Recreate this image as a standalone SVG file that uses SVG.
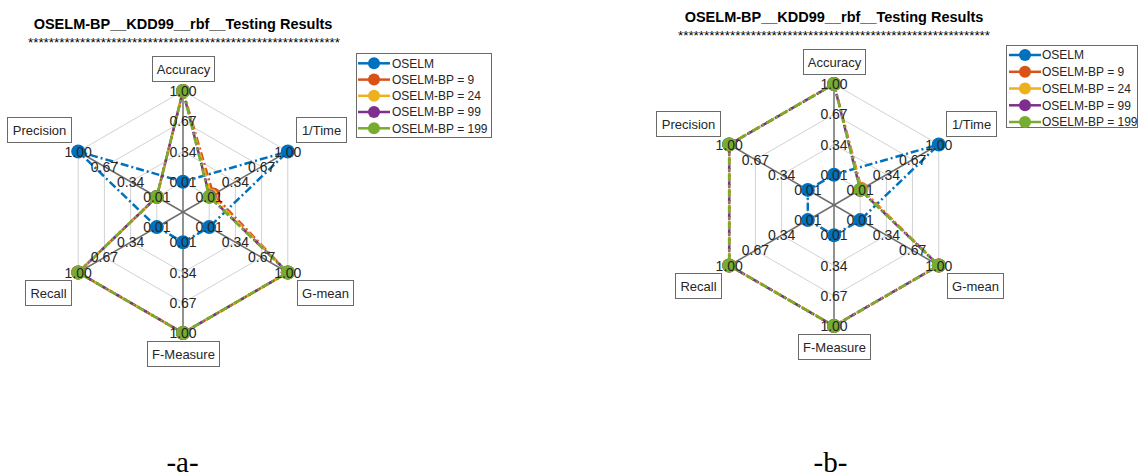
<svg xmlns="http://www.w3.org/2000/svg" width="1140" height="476" viewBox="0 0 1140 476">
<style>
.ring{fill:none;stroke:#d2d2d2;stroke-width:1}
.spoke{stroke:#6e6e6e;stroke-width:1.5}
.tick{font-family:"Liberation Sans",Arial,sans-serif;font-size:14px;fill:#262626;text-anchor:middle}
.axbox{fill:#fff;stroke:#6a6a6a;stroke-width:1}
.axlab{font-family:"Liberation Sans",Arial,sans-serif;font-size:13px;fill:#262626;text-anchor:middle}
.title{font-family:"Liberation Sans",Arial,sans-serif;font-size:14.5px;font-weight:bold;fill:#000;text-anchor:middle}
.stars{font-family:"Liberation Sans",Arial,sans-serif;font-size:12px;fill:#000;text-anchor:middle}
.leg{font-family:"Liberation Sans",Arial,sans-serif;font-size:12px;fill:#262626}
.legbox{fill:#fff;stroke:#6a6a6a;stroke-width:1}
.s{fill:none;stroke-width:2.5;stroke-dasharray:8 3 2 3;stroke-linejoin:round}
.cap{font-family:"Liberation Serif","Times New Roman",serif;font-size:29px;fill:#000;text-anchor:middle}
.c1{stroke:#0072BD}.f1{fill:#0072BD}
.c2{stroke:#D95319}.f2{fill:#D95319}
.c3{stroke:#EDB120}.f3{fill:#EDB120}
.c4{stroke:#7E2F8E}.f4{fill:#7E2F8E}
.c5{stroke:#77AC30}.f5{fill:#77AC30}
</style>

<!-- ================= CHART A ================= -->
<g id="chart-a">
  <text class="title" x="183" y="29">OSELM-BP__KDD99__rbf__Testing Results</text>
  <text class="stars" x="184" y="47" textLength="312" lengthAdjust="spacingAndGlyphs">************************************************************</text>

  <g id="grid-a" transform="translate(183,212)">
    <polygon class="ring" points="0,-30.25 26.2,-15.12 26.2,15.12 0,30.25 -26.2,15.12 -26.2,-15.12"/>
    <polygon class="ring" points="0,-60.5 52.39,-30.25 52.39,30.25 0,60.5 -52.39,30.25 -52.39,-30.25"/>
    <polygon class="ring" points="0,-90.75 78.59,-45.38 78.59,45.38 0,90.75 -78.59,45.38 -78.59,-45.38"/>
    <polygon class="ring" points="0,-121 104.79,-60.5 104.79,60.5 0,121 -104.79,60.5 -104.79,-60.5"/>
    <line class="spoke" x1="0" y1="0" x2="0" y2="-121"/>
    <line class="spoke" x1="0" y1="0" x2="104.79" y2="-60.5"/>
    <line class="spoke" x1="0" y1="0" x2="104.79" y2="60.5"/>
    <line class="spoke" x1="0" y1="0" x2="0" y2="121"/>
    <line class="spoke" x1="0" y1="0" x2="-104.79" y2="60.5"/>
    <line class="spoke" x1="0" y1="0" x2="-104.79" y2="-60.5"/>
  </g>

  <g id="connectors-a" transform="translate(183,212)">
    <g id="series-a-oselm">
      <polygon class="s c1" points="0,-30.25 104.79,-60.5 26.2,15.12 0,30.25 -26.2,15.12 -104.79,-60.5"/>
      <g class="f1">
        <circle cx="0" cy="-30.25" r="7"/><circle cx="104.79" cy="-60.5" r="7"/><circle cx="26.2" cy="15.12" r="7"/>
        <circle cx="0" cy="30.25" r="7"/><circle cx="-26.2" cy="15.12" r="7"/><circle cx="-104.79" cy="-60.5" r="7"/>
      </g>
    </g>
    <g id="series-a-bp9">
      <polygon class="s c2" points="0,-121 30.3,-17.5 104.79,60.5 0,121 -104.79,60.5 -26.2,-15.12"/>
      <g class="f2">
        <circle cx="0" cy="-121" r="7"/><circle cx="30.3" cy="-17.5" r="7"/><circle cx="104.79" cy="60.5" r="7"/>
        <circle cx="0" cy="121" r="7"/><circle cx="-104.79" cy="60.5" r="7"/><circle cx="-26.2" cy="-15.12" r="7"/>
      </g>
    </g>
    <g id="series-a-bp24">
      <polygon class="s c3" points="0,-121 28.2,-16.3 104.79,60.5 0,121 -104.79,60.5 -26.2,-15.12"/>
      <g class="f3">
        <circle cx="0" cy="-121" r="7"/><circle cx="28.2" cy="-16.3" r="7"/><circle cx="104.79" cy="60.5" r="7"/>
        <circle cx="0" cy="121" r="7"/><circle cx="-104.79" cy="60.5" r="7"/><circle cx="-26.2" cy="-15.12" r="7"/>
      </g>
    </g>
    <g id="series-a-bp99">
      <polygon class="s c4" points="0,-121 26.6,-15.4 104.79,60.5 0,121 -104.79,60.5 -26.2,-15.12" style="stroke-dashoffset:6"/>
      <g class="f4">
        <circle cx="0" cy="-121" r="7"/><circle cx="26.6" cy="-15.4" r="7"/><circle cx="104.79" cy="60.5" r="7"/>
        <circle cx="0" cy="121" r="7"/><circle cx="-104.79" cy="60.5" r="7"/><circle cx="-26.2" cy="-15.12" r="7"/>
      </g>
    </g>
    <g id="series-a-bp199">
      <polygon class="s c5" points="0,-121 26.2,-15.12 104.79,60.5 0,121 -104.79,60.5 -26.2,-15.12"/>
      <g class="f5">
        <circle cx="0" cy="-121" r="7"/><circle cx="26.2" cy="-15.12" r="7"/><circle cx="104.79" cy="60.5" r="7"/>
        <circle cx="0" cy="121" r="7"/><circle cx="-104.79" cy="60.5" r="7"/><circle cx="-26.2" cy="-15.12" r="7"/>
      </g>
    </g>
  </g>

  <g id="ticks-a" transform="translate(183,217)">
    <text class="tick" x="0" y="-30.25">0.01</text><text class="tick" x="0" y="-60.5">0.34</text><text class="tick" x="0" y="-90.75">0.67</text><text class="tick" x="0" y="-121">1.00</text>
    <text class="tick" x="26.2" y="-15.12">0.01</text><text class="tick" x="52.39" y="-30.25">0.34</text><text class="tick" x="78.59" y="-45.38">0.67</text><text class="tick" x="104.79" y="-60.5">1.00</text>
    <text class="tick" x="26.2" y="15.12">0.01</text><text class="tick" x="52.39" y="30.25">0.34</text><text class="tick" x="78.59" y="45.38">0.67</text><text class="tick" x="104.79" y="60.5">1.00</text>
    <text class="tick" x="0" y="30.25">0.01</text><text class="tick" x="0" y="60.5">0.34</text><text class="tick" x="0" y="90.75">0.67</text><text class="tick" x="0" y="121">1.00</text>
    <text class="tick" x="-26.2" y="15.12">0.01</text><text class="tick" x="-52.39" y="30.25">0.34</text><text class="tick" x="-78.59" y="45.38">0.67</text><text class="tick" x="-104.79" y="60.5">1.00</text>
    <text class="tick" x="-26.2" y="-15.12">0.01</text><text class="tick" x="-52.39" y="-30.25">0.34</text><text class="tick" x="-78.59" y="-45.38">0.67</text><text class="tick" x="-104.79" y="-60.5">1.00</text>
  </g>

  <g id="a-accuracy"><rect class="axbox" x="152.5" y="56.5" width="62" height="25"/><text class="axlab" x="183.5" y="73.5">Accuracy</text></g>
  <g id="a-precision"><rect class="axbox" x="7.5" y="117.5" width="64" height="25"/><text class="axlab" x="39.5" y="134.5">Precision</text></g>
  <g id="a-time"><rect class="axbox" x="296.5" y="117.5" width="50" height="25"/><text class="axlab" x="321.5" y="134.5">1/Time</text></g>
  <g id="a-recall"><rect class="axbox" x="25.5" y="280.5" width="46" height="25"/><text class="axlab" x="48.5" y="297.5">Recall</text></g>
  <g id="a-gmean"><rect class="axbox" x="297.5" y="280.5" width="56" height="25"/><text class="axlab" x="325.5" y="297.5">G-mean</text></g>
  <g id="a-fmeasure"><rect class="axbox" x="147.5" y="341.5" width="72" height="25"/><text class="axlab" x="183.5" y="358.5">F-Measure</text></g>

  <g id="legend-a">
    <rect class="legbox" x="356.5" y="53.5" width="135" height="84"/>
    <line class="c1" x1="358" y1="63.3" x2="390" y2="63.3" stroke-width="2.5"/><circle class="f1" cx="374" cy="63.3" r="6"/><text class="leg" x="392" y="67.5">OSELM</text>
    <line class="c2" x1="358" y1="79.6" x2="390" y2="79.6" stroke-width="2.5"/><circle class="f2" cx="374" cy="79.6" r="6"/><text class="leg" x="392" y="83.8">OSELM-BP = 9</text>
    <line class="c3" x1="358" y1="95.8" x2="390" y2="95.8" stroke-width="2.5"/><circle class="f3" cx="374" cy="95.8" r="6"/><text class="leg" x="392" y="100">OSELM-BP = 24</text>
    <line class="c4" x1="358" y1="112" x2="390" y2="112" stroke-width="2.5"/><circle class="f4" cx="374" cy="112" r="6"/><text class="leg" x="392" y="116.2">OSELM-BP = 99</text>
    <line class="c5" x1="358" y1="128.3" x2="390" y2="128.3" stroke-width="2.5"/><circle class="f5" cx="374" cy="128.3" r="6"/><text class="leg" x="392" y="132.5">OSELM-BP = 199</text>
  </g>

  <text class="cap" x="182.5" y="472">-a-</text>
</g>

<!-- ================= CHART B ================= -->
<g id="chart-b">
  <text class="title" x="834" y="22">OSELM-BP__KDD99__rbf__Testing Results</text>
  <text class="stars" x="834" y="40" textLength="312" lengthAdjust="spacingAndGlyphs">************************************************************</text>

  <g id="grid-b" transform="translate(834,205)">
    <polygon class="ring" points="0,-30.25 26.2,-15.12 26.2,15.12 0,30.25 -26.2,15.12 -26.2,-15.12"/>
    <polygon class="ring" points="0,-60.5 52.39,-30.25 52.39,30.25 0,60.5 -52.39,30.25 -52.39,-30.25"/>
    <polygon class="ring" points="0,-90.75 78.59,-45.38 78.59,45.38 0,90.75 -78.59,45.38 -78.59,-45.38"/>
    <polygon class="ring" points="0,-121 104.79,-60.5 104.79,60.5 0,121 -104.79,60.5 -104.79,-60.5"/>
    <line class="spoke" x1="0" y1="0" x2="0" y2="-121"/>
    <line class="spoke" x1="0" y1="0" x2="104.79" y2="-60.5"/>
    <line class="spoke" x1="0" y1="0" x2="104.79" y2="60.5"/>
    <line class="spoke" x1="0" y1="0" x2="0" y2="121"/>
    <line class="spoke" x1="0" y1="0" x2="-104.79" y2="60.5"/>
    <line class="spoke" x1="0" y1="0" x2="-104.79" y2="-60.5"/>
  </g>

  <g id="connectors-b" transform="translate(834,205)">
    <g id="series-b-oselm">
      <polygon class="s c1" points="0,-30.25 104.79,-60.5 26.2,15.12 0,30.25 -26.2,15.12 -26.2,-15.12"/>
      <g class="f1">
        <circle cx="0" cy="-30.25" r="7"/><circle cx="104.79" cy="-60.5" r="7"/><circle cx="26.2" cy="15.12" r="7"/>
        <circle cx="0" cy="30.25" r="7"/><circle cx="-26.2" cy="15.12" r="7"/><circle cx="-26.2" cy="-15.12" r="7"/>
      </g>
    </g>
    <g id="series-b-bp9">
      <polygon class="s c2" points="0,-121 27.5,-15.9 104.79,60.5 0,121 -104.79,60.5 -104.79,-60.5"/>
      <g class="f2">
        <circle cx="0" cy="-121" r="7"/><circle cx="27.5" cy="-15.9" r="7"/><circle cx="104.79" cy="60.5" r="7"/>
        <circle cx="0" cy="121" r="7"/><circle cx="-104.79" cy="60.5" r="7"/><circle cx="-104.79" cy="-60.5" r="7"/>
      </g>
    </g>
    <g id="series-b-bp24">
      <polygon class="s c3" points="0,-121 27,-15.6 104.79,60.5 0,121 -104.79,60.5 -104.79,-60.5"/>
      <g class="f3">
        <circle cx="0" cy="-121" r="7"/><circle cx="27" cy="-15.6" r="7"/><circle cx="104.79" cy="60.5" r="7"/>
        <circle cx="0" cy="121" r="7"/><circle cx="-104.79" cy="60.5" r="7"/><circle cx="-104.79" cy="-60.5" r="7"/>
      </g>
    </g>
    <g id="series-b-bp99">
      <polygon class="s c4" points="0,-121 26.2,-15.12 104.79,60.5 0,121 -104.79,60.5 -104.79,-60.5" style="stroke-dashoffset:6"/>
      <g class="f4">
        <circle cx="0" cy="-121" r="7"/><circle cx="26.2" cy="-15.12" r="7"/><circle cx="104.79" cy="60.5" r="7"/>
        <circle cx="0" cy="121" r="7"/><circle cx="-104.79" cy="60.5" r="7"/><circle cx="-104.79" cy="-60.5" r="7"/>
      </g>
    </g>
    <g id="series-b-bp199">
      <polygon class="s c5" points="0,-121 26.2,-15.12 104.79,60.5 0,121 -104.79,60.5 -104.79,-60.5"/>
      <g class="f5">
        <circle cx="0" cy="-121" r="7"/><circle cx="26.2" cy="-15.12" r="7"/><circle cx="104.79" cy="60.5" r="7"/>
        <circle cx="0" cy="121" r="7"/><circle cx="-104.79" cy="60.5" r="7"/><circle cx="-104.79" cy="-60.5" r="7"/>
      </g>
    </g>
  </g>

  <g id="ticks-b" transform="translate(834,210)">
    <text class="tick" x="0" y="-30.25">0.01</text><text class="tick" x="0" y="-60.5">0.34</text><text class="tick" x="0" y="-90.75">0.67</text><text class="tick" x="0" y="-121">1.00</text>
    <text class="tick" x="26.2" y="-15.12">0.01</text><text class="tick" x="52.39" y="-30.25">0.34</text><text class="tick" x="78.59" y="-45.38">0.67</text><text class="tick" x="104.79" y="-60.5">1.00</text>
    <text class="tick" x="26.2" y="15.12">0.01</text><text class="tick" x="52.39" y="30.25">0.34</text><text class="tick" x="78.59" y="45.38">0.67</text><text class="tick" x="104.79" y="60.5">1.00</text>
    <text class="tick" x="0" y="30.25">0.01</text><text class="tick" x="0" y="60.5">0.34</text><text class="tick" x="0" y="90.75">0.67</text><text class="tick" x="0" y="121">1.00</text>
    <text class="tick" x="-26.2" y="15.12">0.01</text><text class="tick" x="-52.39" y="30.25">0.34</text><text class="tick" x="-78.59" y="45.38">0.67</text><text class="tick" x="-104.79" y="60.5">1.00</text>
    <text class="tick" x="-26.2" y="-15.12">0.01</text><text class="tick" x="-52.39" y="-30.25">0.34</text><text class="tick" x="-78.59" y="-45.38">0.67</text><text class="tick" x="-104.79" y="-60.5">1.00</text>
  </g>

  <g id="b-accuracy"><rect class="axbox" x="803.5" y="49.5" width="62" height="25"/><text class="axlab" x="834.5" y="66.5">Accuracy</text></g>
  <g id="b-precision"><rect class="axbox" x="656.5" y="111.5" width="64" height="25"/><text class="axlab" x="688.5" y="128.5">Precision</text></g>
  <g id="b-time"><rect class="axbox" x="946.5" y="111.5" width="50" height="25"/><text class="axlab" x="971.5" y="128.5">1/Time</text></g>
  <g id="b-recall"><rect class="axbox" x="675.5" y="273.5" width="46" height="25"/><text class="axlab" x="698.5" y="290.5">Recall</text></g>
  <g id="b-gmean"><rect class="axbox" x="947.5" y="273.5" width="56" height="25"/><text class="axlab" x="975.5" y="290.5">G-mean</text></g>
  <g id="b-fmeasure"><rect class="axbox" x="798.5" y="334.5" width="72" height="25"/><text class="axlab" x="834.5" y="351.5">F-Measure</text></g>

  <g id="legend-b">
    <rect class="legbox" x="1006.5" y="45.5" width="131" height="82"/>
    <line class="c1" x1="1009" y1="55" x2="1041" y2="55" stroke-width="2.5"/><circle class="f1" cx="1025" cy="55" r="6"/><text class="leg" x="1042" y="59.2">OSELM</text>
    <line class="c2" x1="1009" y1="71.8" x2="1041" y2="71.8" stroke-width="2.5"/><circle class="f2" cx="1025" cy="71.8" r="6"/><text class="leg" x="1042" y="76">OSELM-BP = 9</text>
    <line class="c3" x1="1009" y1="88.5" x2="1041" y2="88.5" stroke-width="2.5"/><circle class="f3" cx="1025" cy="88.5" r="6"/><text class="leg" x="1042" y="92.7">OSELM-BP = 24</text>
    <line class="c4" x1="1009" y1="105.3" x2="1041" y2="105.3" stroke-width="2.5"/><circle class="f4" cx="1025" cy="105.3" r="6"/><text class="leg" x="1042" y="109.5">OSELM-BP = 99</text>
    <line class="c5" x1="1009" y1="122" x2="1041" y2="122" stroke-width="2.5"/><circle class="f5" cx="1025" cy="122" r="6"/><text class="leg" x="1042" y="126.2">OSELM-BP = 199</text>
  </g>

  <text class="cap" x="830.5" y="472">-b-</text>
</g>
</svg>
